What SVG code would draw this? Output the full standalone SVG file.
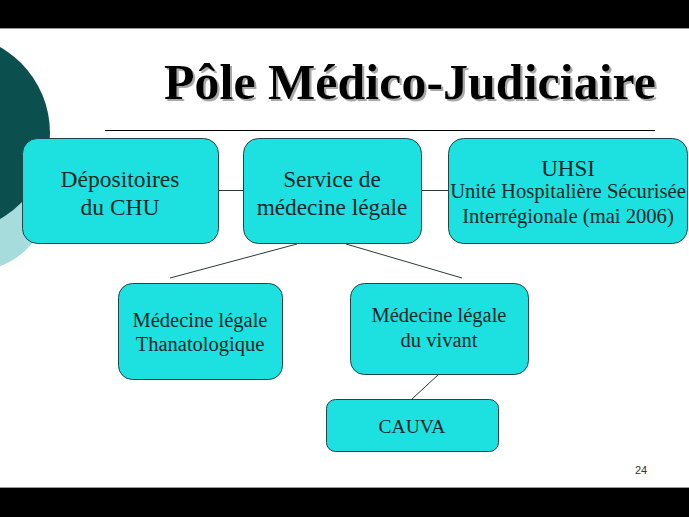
<svg xmlns="http://www.w3.org/2000/svg" width="689" height="517" viewBox="0 0 689 517">
  <style>
    .box { fill: #1de1e1; stroke: #1f4545; stroke-width: 1; }
    .lbl { fill: #0c2626; text-anchor: middle; }
    .conn line { stroke: #2e3a3a; stroke-width: 1; }
  </style>
  <defs>
    <filter id="shadow" x="-5%" y="-20%" width="110%" height="140%">
      <feOffset in="SourceAlpha" dx="2" dy="2" result="off"/>
      <feFlood flood-color="#a8a8a8"/>
      <feComposite in2="off" operator="in" result="sh"/>
      <feMerge><feMergeNode in="sh"/><feMergeNode in="SourceGraphic"/></feMerge>
    </filter>
  </defs>
  <rect x="0" y="0" width="689" height="517" fill="#ffffff"/>
  <!-- left decoration -->
  <circle cx="-30" cy="190" r="82" fill="#a6dcdc"/>
  <circle cx="-49" cy="133" r="99" fill="#0b4f4f"/>
  <!-- black bars -->
  <rect x="0" y="0" width="689" height="28" fill="#000"/>
  <rect x="0" y="28" width="689" height="1" fill="#9a9a9a"/>
  <rect x="0" y="487" width="689" height="1" fill="#9a9a9a"/>
  <rect x="0" y="488" width="689" height="29" fill="#000"/>
  <!-- title -->
  <g id="title">
    <text x="410" y="99" font-family="'Liberation Serif', 'Times New Roman', serif" font-weight="bold" font-size="50" text-anchor="middle" fill="#000" filter="url(#shadow)">Pôle Médico-Judiciaire</text>
    <line x1="105" y1="130.5" x2="655" y2="130.5" stroke="#000" stroke-width="1"/>
  </g>
  <g id="connectors" class="conn">
    <line x1="219" y1="190.5" x2="243" y2="190.5"/>
    <line x1="422" y1="190.5" x2="448" y2="190.5"/>
    <line x1="297" y1="244" x2="170" y2="278"/>
    <line x1="346" y1="244" x2="462" y2="278"/>
    <line x1="439" y1="374" x2="412" y2="399"/>
  </g>
  <g font-family="'Liberation Serif', 'Times New Roman', serif">
  <g id="depositoires">
    <rect class="box" x="22.5" y="138.5" width="196" height="105" rx="15"/>
    <text class="lbl" x="120" y="187" font-size="23.5">Dépositoires</text>
    <text class="lbl" x="120" y="215" font-size="23.5">du CHU</text>
  </g>
  <g id="service">
    <rect class="box" x="243.5" y="138.5" width="178" height="105" rx="15"/>
    <text class="lbl" x="332" y="187" font-size="23.3">Service de</text>
    <text class="lbl" x="332" y="215" font-size="23.3">médecine légale</text>
  </g>
  <g id="uhsi">
    <rect class="box" x="448.5" y="138.5" width="239" height="105" rx="15"/>
    <text class="lbl" x="568" y="176" font-size="23">UHSI</text>
    <text class="lbl" x="568" y="198" font-size="20.6">Unité Hospitalière Sécurisée</text>
    <text class="lbl" x="568" y="223" font-size="20.6">Interrégionale (mai 2006)</text>
  </g>
  <g id="thanato">
    <rect class="box" x="118.5" y="283.5" width="164" height="96" rx="14"/>
    <text class="lbl" x="200" y="327" font-size="20.5">Médecine légale</text>
    <text class="lbl" x="200" y="351" font-size="20.5">Thanatologique</text>
  </g>
  <g id="vivant">
    <rect class="box" x="350.5" y="283.5" width="178" height="91" rx="14"/>
    <text class="lbl" x="439" y="322" font-size="20.5">Médecine légale</text>
    <text class="lbl" x="439" y="347" font-size="20.5">du vivant</text>
  </g>
  <g id="cauva">
    <rect class="box" x="326.5" y="399.5" width="172" height="52" rx="9"/>
    <text class="lbl" x="412" y="433" font-size="19.5">CAUVA</text>
  </g>
  </g>
  <text x="641" y="474" font-family="'Liberation Sans', Arial, sans-serif" font-size="11" fill="#333" text-anchor="middle">24</text>
</svg>
